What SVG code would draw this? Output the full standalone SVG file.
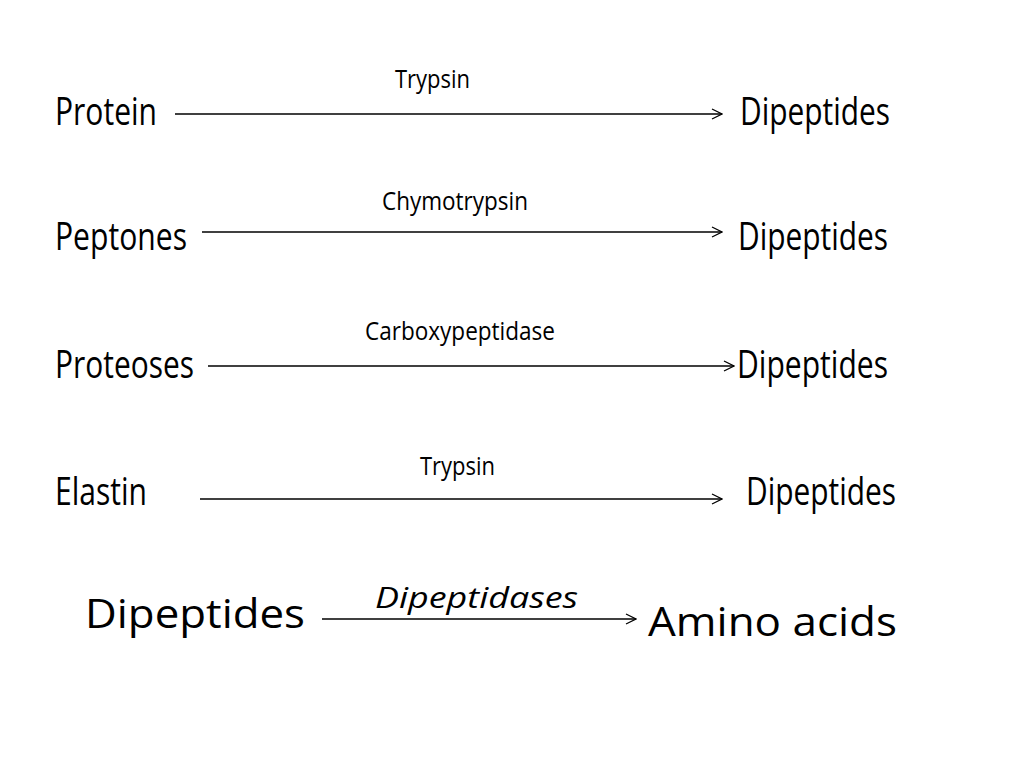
<svg xmlns="http://www.w3.org/2000/svg" width="1024" height="768" viewBox="0 0 1024 768">
<style>
.t{font-family:"Open Sans","Noto Sans",sans-serif;fill:#000}
.b{font-size:38px}
.s{font-size:25px}
.c{stroke:#000;stroke-width:1.3;fill:none}
</style>
<defs><marker id="a" viewBox="0 0 12 12" refX="11" refY="6" markerWidth="12" markerHeight="12" markerUnits="userSpaceOnUse" orient="auto"><path d="M1,1 L11,6 L1,11" class="c"/></marker></defs>
<rect width="1024" height="768" fill="#fff"/>
<g id="connectors">
<line x1="175" y1="114" x2="722" y2="114" class="c" marker-end="url(#a)"/>
<line x1="202" y1="232" x2="722" y2="232" class="c" marker-end="url(#a)"/>
<line x1="208" y1="366" x2="734" y2="366" class="c" marker-end="url(#a)"/>
<line x1="200" y1="499" x2="722" y2="499" class="c" marker-end="url(#a)"/>
<line x1="322" y1="619" x2="636" y2="619" class="c" marker-end="url(#a)"/>
</g>
<g id="row1">
<text class="t b" x="55" y="125" textLength="102" lengthAdjust="spacingAndGlyphs">Protein</text>
<text class="t s" x="395" y="88" textLength="75" lengthAdjust="spacingAndGlyphs">Trypsin</text>
<text class="t b" x="740" y="125" textLength="150" lengthAdjust="spacingAndGlyphs">Dipeptides</text>
</g>
<g id="row2">
<text class="t b" x="55" y="250" textLength="132" lengthAdjust="spacingAndGlyphs">Peptones</text>
<text class="t s" x="382" y="210" textLength="146" lengthAdjust="spacingAndGlyphs">Chymotrypsin</text>
<text class="t b" x="738" y="250" textLength="150" lengthAdjust="spacingAndGlyphs">Dipeptides</text>
</g>
<g id="row3">
<text class="t b" x="55" y="378" textLength="139" lengthAdjust="spacingAndGlyphs">Proteoses</text>
<text class="t s" x="365" y="340" textLength="190" lengthAdjust="spacingAndGlyphs">Carboxypeptidase</text>
<text class="t b" x="737" y="378" textLength="151" lengthAdjust="spacingAndGlyphs">Dipeptides</text>
</g>
<g id="row4">
<text class="t b" x="55" y="505" textLength="92" lengthAdjust="spacingAndGlyphs">Elastin</text>
<text class="t s" x="420" y="475" textLength="75" lengthAdjust="spacingAndGlyphs">Trypsin</text>
<text class="t b" x="746" y="505" textLength="150" lengthAdjust="spacingAndGlyphs">Dipeptides</text>
</g>
<g id="row5">
<text class="t" font-size="40" x="85" y="628" textLength="220" lengthAdjust="spacingAndGlyphs">Dipeptides</text>
<text class="t" font-size="29" font-style="italic" x="375" y="608" textLength="203" lengthAdjust="spacingAndGlyphs">Dipeptidases</text>
<text class="t" font-size="40" x="648" y="636" textLength="249" lengthAdjust="spacingAndGlyphs">Amino acids</text>
</g>
</svg>
